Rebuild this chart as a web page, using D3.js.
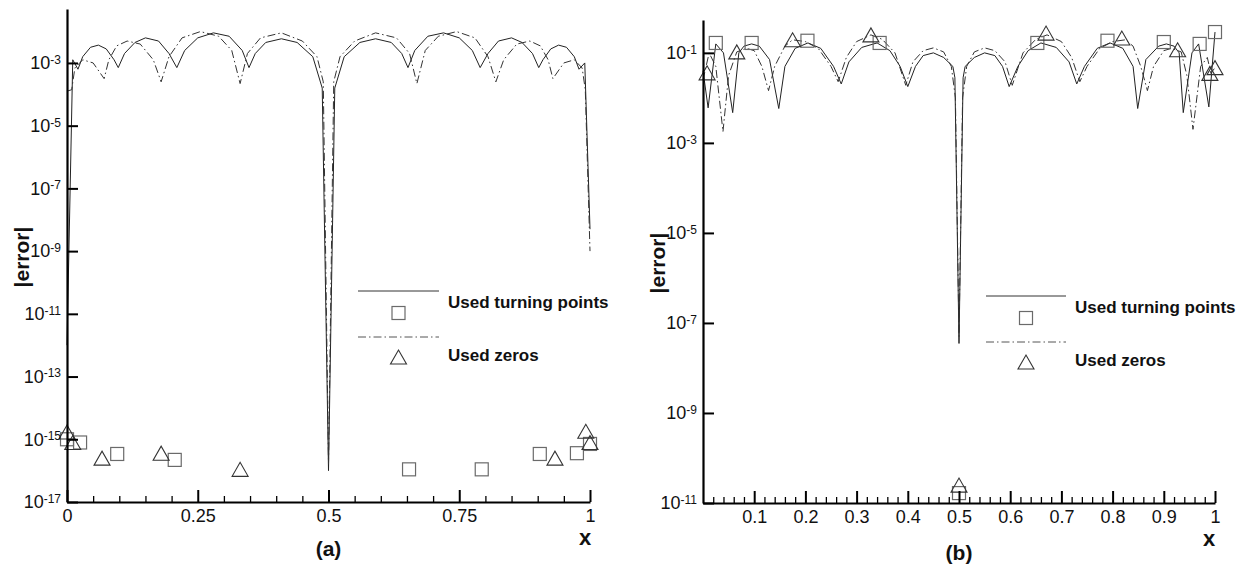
<!DOCTYPE html>
<html>
<head>
<meta charset="utf-8">
<script src="https://cdn.jsdelivr.net/npm/d3@7"></script>
<style>
  body { margin: 0; background: #fff; }
  svg { display: block; }
  text { font-family: "Liberation Sans", Arial, sans-serif; fill: #111; }
</style>
</head>
<body>
<svg id="chart"></svg>
<script>
// ---- panel (a) ----
const solidA = [
  [0, 1e-12], [0.011, 1.26e-3], [0.021, 6.3e-4], [0.03, 1.58e-3], [0.045, 3.16e-3], [0.06, 3.7e-3],
  [0.075, 2.8e-3], [0.09, 1.26e-3], [0.098, 7.1e-4], [0.11, 2.0e-3], [0.13, 4.5e-3], [0.15, 6.3e-3],
  [0.175, 5.0e-3], [0.195, 2.0e-3], [0.21, 7.1e-4], [0.225, 2.5e-3], [0.25, 6.3e-3], [0.28, 9.1e-3],
  [0.31, 7.1e-3], [0.335, 2.5e-3], [0.348, 7.1e-4], [0.36, 2.0e-3], [0.38, 4.5e-3], [0.41, 5.9e-3],
  [0.44, 4.5e-3], [0.47, 1.58e-3], [0.488, 1.58e-4], [0.5, 1e-16], [0.512, 1.58e-4], [0.53, 1.58e-3],
  [0.56, 4.5e-3], [0.59, 5.9e-3], [0.62, 4.5e-3], [0.64, 2.0e-3], [0.652, 7.1e-4], [0.665, 2.5e-3],
  [0.69, 7.1e-3], [0.72, 9.1e-3], [0.75, 6.3e-3], [0.775, 2.5e-3], [0.79, 7.1e-4], [0.805, 2.0e-3],
  [0.825, 5.0e-3], [0.85, 6.3e-3], [0.87, 4.5e-3], [0.89, 2.0e-3], [0.902, 7.1e-4], [0.91, 1.26e-3],
  [0.925, 2.8e-3], [0.94, 3.7e-3], [0.955, 3.16e-3], [0.97, 1.58e-3], [0.979, 6.3e-4], [0.99, 1.0e-3],
  [1.0, 5e-9]
];
const dashA = [
  [0, 1.26e-4], [0.009, 1.4e-4], [0.015, 6.9e-4], [0.03, 1.26e-3], [0.05, 1.0e-3], [0.071, 3.16e-4],
  [0.08, 1.26e-3], [0.095, 3.5e-3], [0.115, 5.0e-3], [0.14, 4.0e-3], [0.165, 1.26e-3], [0.18, 2.5e-4],
  [0.195, 1.58e-3], [0.22, 6.3e-3], [0.255, 1.0e-2], [0.29, 7.1e-3], [0.315, 2.5e-3], [0.331, 2.2e-4],
  [0.345, 2.0e-3], [0.37, 6.3e-3], [0.41, 9.1e-3], [0.45, 5.0e-3], [0.478, 1.58e-3], [0.49, 2.5e-4],
  [0.5, 1.6e-16], [0.51, 2.5e-4], [0.522, 1.58e-3], [0.55, 5.0e-3], [0.59, 9.1e-3], [0.63, 6.3e-3],
  [0.655, 2.0e-3], [0.669, 2.2e-4], [0.685, 2.5e-3], [0.71, 7.1e-3], [0.745, 1.0e-2], [0.78, 6.3e-3],
  [0.805, 1.58e-3], [0.82, 2.5e-4], [0.835, 1.26e-3], [0.86, 4.0e-3], [0.885, 5.0e-3], [0.905, 3.5e-3],
  [0.92, 1.26e-3], [0.929, 3.16e-4], [0.95, 1.0e-3], [0.97, 1.26e-3], [0.985, 6.9e-4], [0.991, 1.4e-4],
  [1.0, 1e-9]
];
const squaresA = [[0, 1e-15], [0.025, 7.9e-16], [0.096, 3.4e-16], [0.206, 2.2e-16], [0.654, 1.1e-16],
  [0.793, 1.1e-16], [0.904, 3.4e-16], [0.975, 3.6e-16], [1.0, 7.1e-16]];
const trianglesA = [[0, 1.7e-15], [0.011, 7.9e-16], [0.067, 2.5e-16], [0.18, 3.6e-16], [0.331, 1.1e-16],
  [0.933, 2.5e-16], [0.992, 1.8e-15], [1.0, 7.9e-16]];
const yTicksA = [1e-17, 1e-15, 1e-13, 1e-11, 1e-9, 1e-7, 1e-5, 1e-3];
const xMajorA = [0, 0.25, 0.5, 0.75, 1];
const xMajorLabelsA = ["0", "0.25", "0.5", "0.75", "1"];
const xMinorA = [0.05, 0.1, 0.15, 0.2, 0.3, 0.35, 0.4, 0.45, 0.55, 0.6, 0.65, 0.7, 0.8, 0.85, 0.9, 0.95];

// ---- panel (b) ----
const solidB = [
  [0, 0.04], [0.01, 6.0e-3], [0.025, 0.158], [0.04, 0.1], [0.058, 4.7e-3], [0.07, 0.1], [0.08, 0.141],
  [0.095, 0.158], [0.11, 0.141], [0.13, 0.071], [0.148, 5.8e-3], [0.16, 0.05], [0.18, 0.126],
  [0.205, 0.166], [0.23, 0.126], [0.255, 0.05], [0.27, 0.0204], [0.285, 0.063], [0.31, 0.132],
  [0.34, 0.166], [0.365, 0.112], [0.385, 0.05], [0.40, 0.0178], [0.415, 0.05], [0.43, 0.087],
  [0.45, 0.1], [0.47, 0.079], [0.488, 0.05], [0.492, 0.028], [0.5, 3.5e-8], [0.508, 0.028],
  [0.512, 0.05], [0.53, 0.079], [0.55, 0.1], [0.57, 0.087], [0.585, 0.05], [0.598, 0.0178],
  [0.615, 0.05], [0.635, 0.112], [0.66, 0.166], [0.69, 0.132], [0.715, 0.063], [0.73, 0.0204],
  [0.745, 0.05], [0.77, 0.126], [0.795, 0.166], [0.82, 0.126], [0.84, 0.05], [0.849, 5.8e-3],
  [0.865, 0.071], [0.89, 0.141], [0.905, 0.158], [0.92, 0.141], [0.93, 0.1], [0.938, 4.7e-3],
  [0.955, 0.1], [0.968, 0.158], [0.988, 6.3e-3], [1.0, 0.29]
];
const dashB = [
  [0, 0.025], [0.012, 0.1], [0.025, 0.05], [0.039, 1.78e-3], [0.05, 0.0316], [0.066, 0.105],
  [0.085, 0.126], [0.1, 0.112], [0.115, 0.05], [0.128, 0.0145], [0.14, 0.05], [0.16, 0.141],
  [0.175, 0.195], [0.2, 0.178], [0.225, 0.126], [0.25, 0.05], [0.264, 0.0229], [0.28, 0.079],
  [0.3, 0.178], [0.328, 0.251], [0.35, 0.2], [0.375, 0.1], [0.396, 0.019], [0.41, 0.063],
  [0.43, 0.112], [0.45, 0.129], [0.47, 0.105], [0.485, 0.05], [0.493, 0.01], [0.5, 5e-8],
  [0.507, 0.01], [0.515, 0.05], [0.53, 0.105], [0.55, 0.129], [0.57, 0.112], [0.59, 0.063],
  [0.604, 0.019], [0.625, 0.1], [0.65, 0.2], [0.672, 0.251], [0.7, 0.178], [0.72, 0.079],
  [0.736, 0.0229], [0.75, 0.05], [0.775, 0.126], [0.8, 0.178], [0.825, 0.195], [0.84, 0.141],
  [0.855, 0.05], [0.868, 0.0145], [0.88, 0.05], [0.9, 0.112], [0.915, 0.126], [0.934, 0.105],
  [0.945, 0.0316], [0.957, 2.0e-3], [0.972, 0.05], [0.985, 0.079], [0.992, 0.035], [1.0, 0.047]
];
const squaresB = [[0.025, 0.166], [0.095, 0.166], [0.204, 0.186], [0.345, 0.166], [0.5, 1.66e-11],
  [0.653, 0.166], [0.79, 0.186], [0.9, 0.174], [0.97, 0.158], [1.0, 0.29]];
const trianglesB = [[0.008, 0.036], [0.066, 0.105], [0.175, 0.195], [0.328, 0.251], [0.5, 2.5e-11],
  [0.67, 0.275], [0.818, 0.214], [0.927, 0.117], [0.99, 0.035], [1.0, 0.047]];
const yTicksB = [1e-11, 1e-9, 1e-7, 1e-5, 1e-3, 1e-1];
const xMajorB = [0.1, 0.2, 0.3, 0.4, 0.5, 0.6, 0.7, 0.8, 0.9, 1];
const xMajorLabelsB = ["0.1", "0.2", "0.3", "0.4", "0.5", "0.6", "0.7", "0.8", "0.9", "1"];
const xMinorB = [0.02, 0.04, 0.06, 0.08, 0.12, 0.14, 0.16, 0.18, 0.22, 0.24, 0.26, 0.28,
  0.32, 0.34, 0.36, 0.38, 0.42, 0.44, 0.46, 0.48, 0.52, 0.54, 0.56, 0.58, 0.62, 0.64, 0.66, 0.68,
  0.72, 0.74, 0.76, 0.78, 0.82, 0.84, 0.86, 0.88, 0.92, 0.94, 0.96, 0.98];

const legendLabels = ["Used turning points", "Used zeros"];

const svg = d3.select("#chart").attr("width", 1242).attr("height", 566);
svg.append("rect").attr("width", 1242).attr("height", 566).attr("fill", "#fff");

const DASH = "8,3,1.5,3";

function square(g, cx, cy) {
  g.append("rect").attr("x", cx - 6.5).attr("y", cy - 6.5).attr("width", 13).attr("height", 13)
    .attr("fill", "none").attr("stroke", "#6a6a6a").attr("stroke-width", 1.2);
}
function triangle(g, cx, cy) {
  g.append("path").attr("d", `M${cx - 8},${cy + 7}L${cx + 8},${cy + 7}L${cx},${cy - 7}Z`)
    .attr("fill", "none").attr("stroke", "#333").attr("stroke-width", 1.1);
}

// "10" with the exponent raised
function supLabel(sel) {
  sel.each(function (d) {
    const t = d3.select(this);
    const e = Math.round(Math.log10(d));
    t.text(null);
    t.append("tspan").text("10");
    t.append("tspan").attr("dy", "-0.45em").attr("font-size", "12px").text(String(e));
  });
}

function panel(o) {
  const x = d3.scaleLinear().domain([0, 1]).range(o.xr);
  const y = d3.scaleLog().domain(o.yd).range(o.yr);
  const g = svg.append("g");
  const line = d3.line().x(d => x(d[0])).y(d => y(d[1]));

  g.append("path").datum(o.solid).attr("d", line)
    .attr("fill", "none").attr("stroke", "#222").attr("stroke-width", 1);
  g.append("path").datum(o.dash).attr("d", line)
    .attr("fill", "none").attr("stroke", "#333").attr("stroke-width", 1).attr("stroke-dasharray", DASH);

  o.squares.forEach(d => square(g, x(d[0]), y(d[1])));
  o.triangles.forEach(d => triangle(g, x(d[0]), y(d[1])));

  // minor x ticks
  g.append("g").attr("transform", `translate(0,${o.yr[0]})`)
    .call(d3.axisBottom(x).tickValues(o.xMinor).tickSize(-6).tickFormat(""))
    .call(a => a.select(".domain").remove())
    .call(a => a.selectAll("line").attr("stroke", "#000").attr("stroke-width", 1.3));

  // major x ticks
  g.append("g").attr("transform", `translate(0,${o.yr[0]})`)
    .call(d3.axisBottom(x).tickValues(o.xMajor).tickSizeInner(-12).tickSizeOuter(0).tickPadding(7)
      .tickFormat((d, i) => o.xLabels[i]))
    .call(a => a.select(".domain").attr("stroke", "#000").attr("stroke-width", 2.2))
    .call(a => a.selectAll("line").attr("stroke", "#000").attr("stroke-width", 2))
    .call(a => a.selectAll("text").attr("font-size", "18px").attr("fill", "#111")
      .attr("font-family", "Liberation Sans, Arial, sans-serif"));

  // y axis
  g.append("g").attr("transform", `translate(${o.xr[0]},0)`)
    .call(d3.axisLeft(y).tickValues(o.yTicks).tickSizeInner(-11).tickSizeOuter(0).tickPadding(6))
    .call(a => a.select(".domain").attr("stroke", "#000").attr("stroke-width", 2.2))
    .call(a => a.selectAll("line").attr("stroke", "#000").attr("stroke-width", 2))
    .call(a => a.selectAll("text").attr("font-size", "18px").attr("fill", "#111")
      .attr("font-family", "Liberation Sans, Arial, sans-serif").call(supLabel));

  // axis titles
  g.append("text").attr("transform", `translate(${o.ylab[0]},${o.ylab[1]}) rotate(-90)`)
    .attr("text-anchor", "middle").attr("dominant-baseline", "central")
    .attr("font-size", "21px").attr("font-weight", "bold").text("|error|");
  g.append("text").attr("x", o.xlab[0]).attr("y", o.xlab[1]).attr("text-anchor", "middle")
    .attr("font-size", "22px").attr("font-weight", "bold").text("x");
  g.append("text").attr("x", x(0.5)).attr("y", o.capY).attr("text-anchor", "middle")
    .attr("font-size", "21px").attr("font-weight", "bold").text(o.caption);

  // legend
  const L = o.legend;
  g.append("line").attr("x1", L.x0).attr("x2", L.x1).attr("y1", L.y).attr("y2", L.y)
    .attr("stroke", "#333").attr("stroke-width", 1);
  square(g, (L.x0 + L.x1) / 2, L.y + 22);
  g.append("text").attr("x", L.tx).attr("y", L.y + 17).attr("font-size", "17px").attr("font-weight", "bold")
    .text(legendLabels[0]);
  g.append("line").attr("x1", L.x0).attr("x2", L.x1).attr("y1", L.y + 46).attr("y2", L.y + 46)
    .attr("stroke", "#555").attr("stroke-width", 1).attr("stroke-dasharray", DASH);
  triangle(g, (L.x0 + L.x1) / 2, L.y + 66);
  g.append("text").attr("x", L.tx).attr("y", L.y + 70).attr("font-size", "17px").attr("font-weight", "bold")
    .text(legendLabels[1]);
}

panel({
  xr: [67, 590], yd: [1e-17, Math.pow(10, -1.28)], yr: [502, 9],
  solid: solidA, dash: dashA, squares: squaresA, triangles: trianglesA,
  yTicks: yTicksA, xMajor: xMajorA, xLabels: xMajorLabelsA, xMinor: xMinorA,
  ylab: [21, 257], xlab: [585, 545], capY: 556, caption: "(a)",
  legend: { x0: 358, x1: 439, y: 291, tx: 448 }
});

panel({
  xr: [703, 1215], yd: [1e-11, Math.pow(10, -0.27)], yr: [503, 20],
  solid: solidB, dash: dashB, squares: squaresB, triangles: trianglesB,
  yTicks: yTicksB, xMajor: xMajorB, xLabels: xMajorLabelsB, xMinor: xMinorB,
  ylab: [657, 263], xlab: [1209, 546], capY: 560, caption: "(b)",
  legend: { x0: 986, x1: 1066, y: 296, tx: 1075 }
});
</script>
</body>
</html>
